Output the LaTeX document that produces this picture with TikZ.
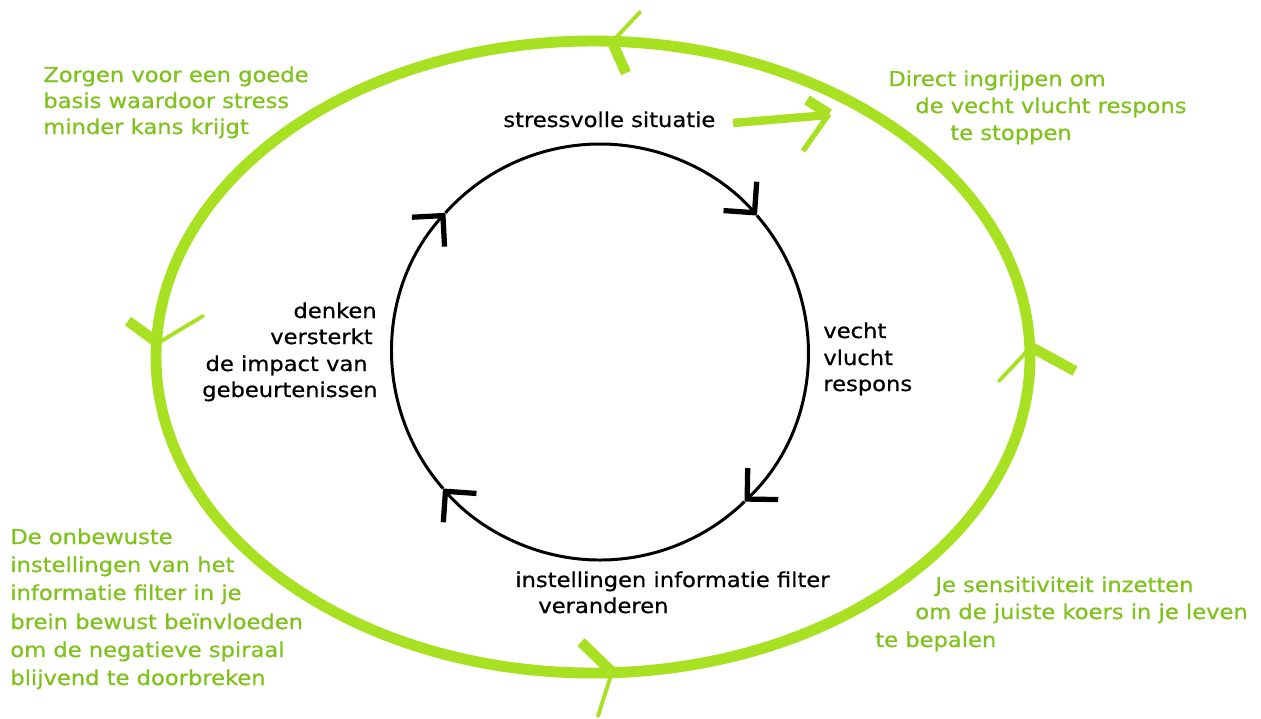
\documentclass[tikz,border=0pt]{standalone}
\usepackage{fontspec}
\setmainfont{DejaVu Sans}[FakeStretch=1.1, FakeBold=0.7]
\usetikzlibrary{arrows.meta}

\definecolor{limoen}{RGB}{168,224,34}
\definecolor{limoentekst}{RGB}{128,194,28}

\begin{document}
\begin{tikzpicture}[x=0.02cm, y=0.02cm,
    tekst/.style={font=\fontsize{11.7}{15}\selectfont, inner sep=0pt, anchor=base west},
    groentekst/.style={tekst, text=limoentekst},
    ring/.style={line width=1.7pt, -{Straight Barb[length=12.5pt, width=25pt, line width=3pt]}},
    ovaal/.style={limoen, line width=6.2pt},
    pijldik/.style={limoen, line width=6pt},
    pijldun/.style={limoen, line width=2.2pt, line cap=round}]

    % canvas in pixels: 1261 x 718
    \useasboundingbox (0,0) rectangle (1261,-718);

    % outer green ellipse with its hand-drawn arrow marks (counter-clockwise)
    \draw[ovaal] (593,-357) ellipse [x radius=437, y radius=316];
    \draw[pijldik] (612,-42) -- (626,-73);
    \draw[pijldun] (612,-42) -- (640,-12);
    \draw[pijldik] (1031,-347) -- (1075,-371);
    \draw[pijldun] (1031,-347) -- (999,-381);
    \draw[pijldik] (612,-672) -- (581,-642);
    \draw[pijldun] (612,-672) -- (598,-716);
    \draw[pijldik] (158,-343) -- (128,-321);
    \draw[pijldun] (158,-343) -- (203,-316);

    % inner black cycle, clockwise
    \coordinate (midden) at (600,-352);
    \draw[ring] ([shift={(138:208)}]midden) arc (138:41:208);
    \draw[ring] ([shift={(41:208)}]midden) arc (41:-46:208);
    \draw[ring] ([shift={(-46:208)}]midden) arc (-46:-139:208);
    \draw[ring] ([shift={(-139:208)}]midden) arc (-139:-222:208);

    % black labels
    \node[tekst] (situatie) at (503,-127) {stressvolle situatie};
    \node[tekst] (vecht) at (823,-338) {vecht};
    \node[tekst] (vlucht) at (823,-365) {vlucht};
    \node[tekst] (respons) at (823,-391) {respons};
    \node[tekst] (filter) at (515,-587) {instellingen informatie filter};
    \node[tekst] (veranderen) at (538,-613) {veranderen};
    \node[tekst, anchor=base east] (denken) at (377,-318) {denken};
    \node[tekst, anchor=base east] (versterkt) at (373,-344) {versterkt};
    \node[tekst, anchor=base east] (impact) at (368,-371) {de impact van};
    \node[tekst, anchor=base east] (gebeurtenissen) at (378,-397) {gebeurtenissen};

    % green arrow towards the ellipse
    \coordinate (pijlbegin) at (733,-123);
    \coordinate (pijlpunt) at (828,-115);
    \draw[limoen, line width=4.8pt] (pijlbegin) -- (pijlpunt);
    \draw[pijldik] (807,-100) -- (829,-114);
    \draw[limoen, line width=3pt] (829,-114) -- (803,-151);

    % green labels
    \foreach \regel/\x/\y [count=\i] in {{Zorgen voor een goede}/43/82,
        {basis waardoor stress}/43/108, {minder kans krijgt}/43/134}
        \node[groentekst] (basis\i) at (\x,-\y) {\regel};
    \foreach \regel/\x/\y [count=\i] in {{Direct ingrijpen om}/888/86,
        {de vecht vlucht respons}/915/113, {te stoppen}/950/140}
        \node[groentekst] (ingrijpen\i) at (\x,-\y) {\regel};
    \foreach \regel/\x/\y [count=\i] in {{De onbewuste}/10/544,
        {instellingen van het}/10/572, {informatie filter in je}/10/600,
        {brein bewust beïnvloeden}/10/629, {om de negatieve spiraal}/10/657,
        {blijvend te doorbreken}/10/685}
        \node[groentekst] (onbewust\i) at (\x,-\y) {\regel};
    \foreach \regel/\x/\y [count=\i] in {{Je sensitiviteit inzetten}/935/592,
        {om de juiste koers in je leven}/915/619, {te bepalen}/875/647}
        \node[groentekst] (koers\i) at (\x,-\y) {\regel};
\end{tikzpicture}
\end{document}
